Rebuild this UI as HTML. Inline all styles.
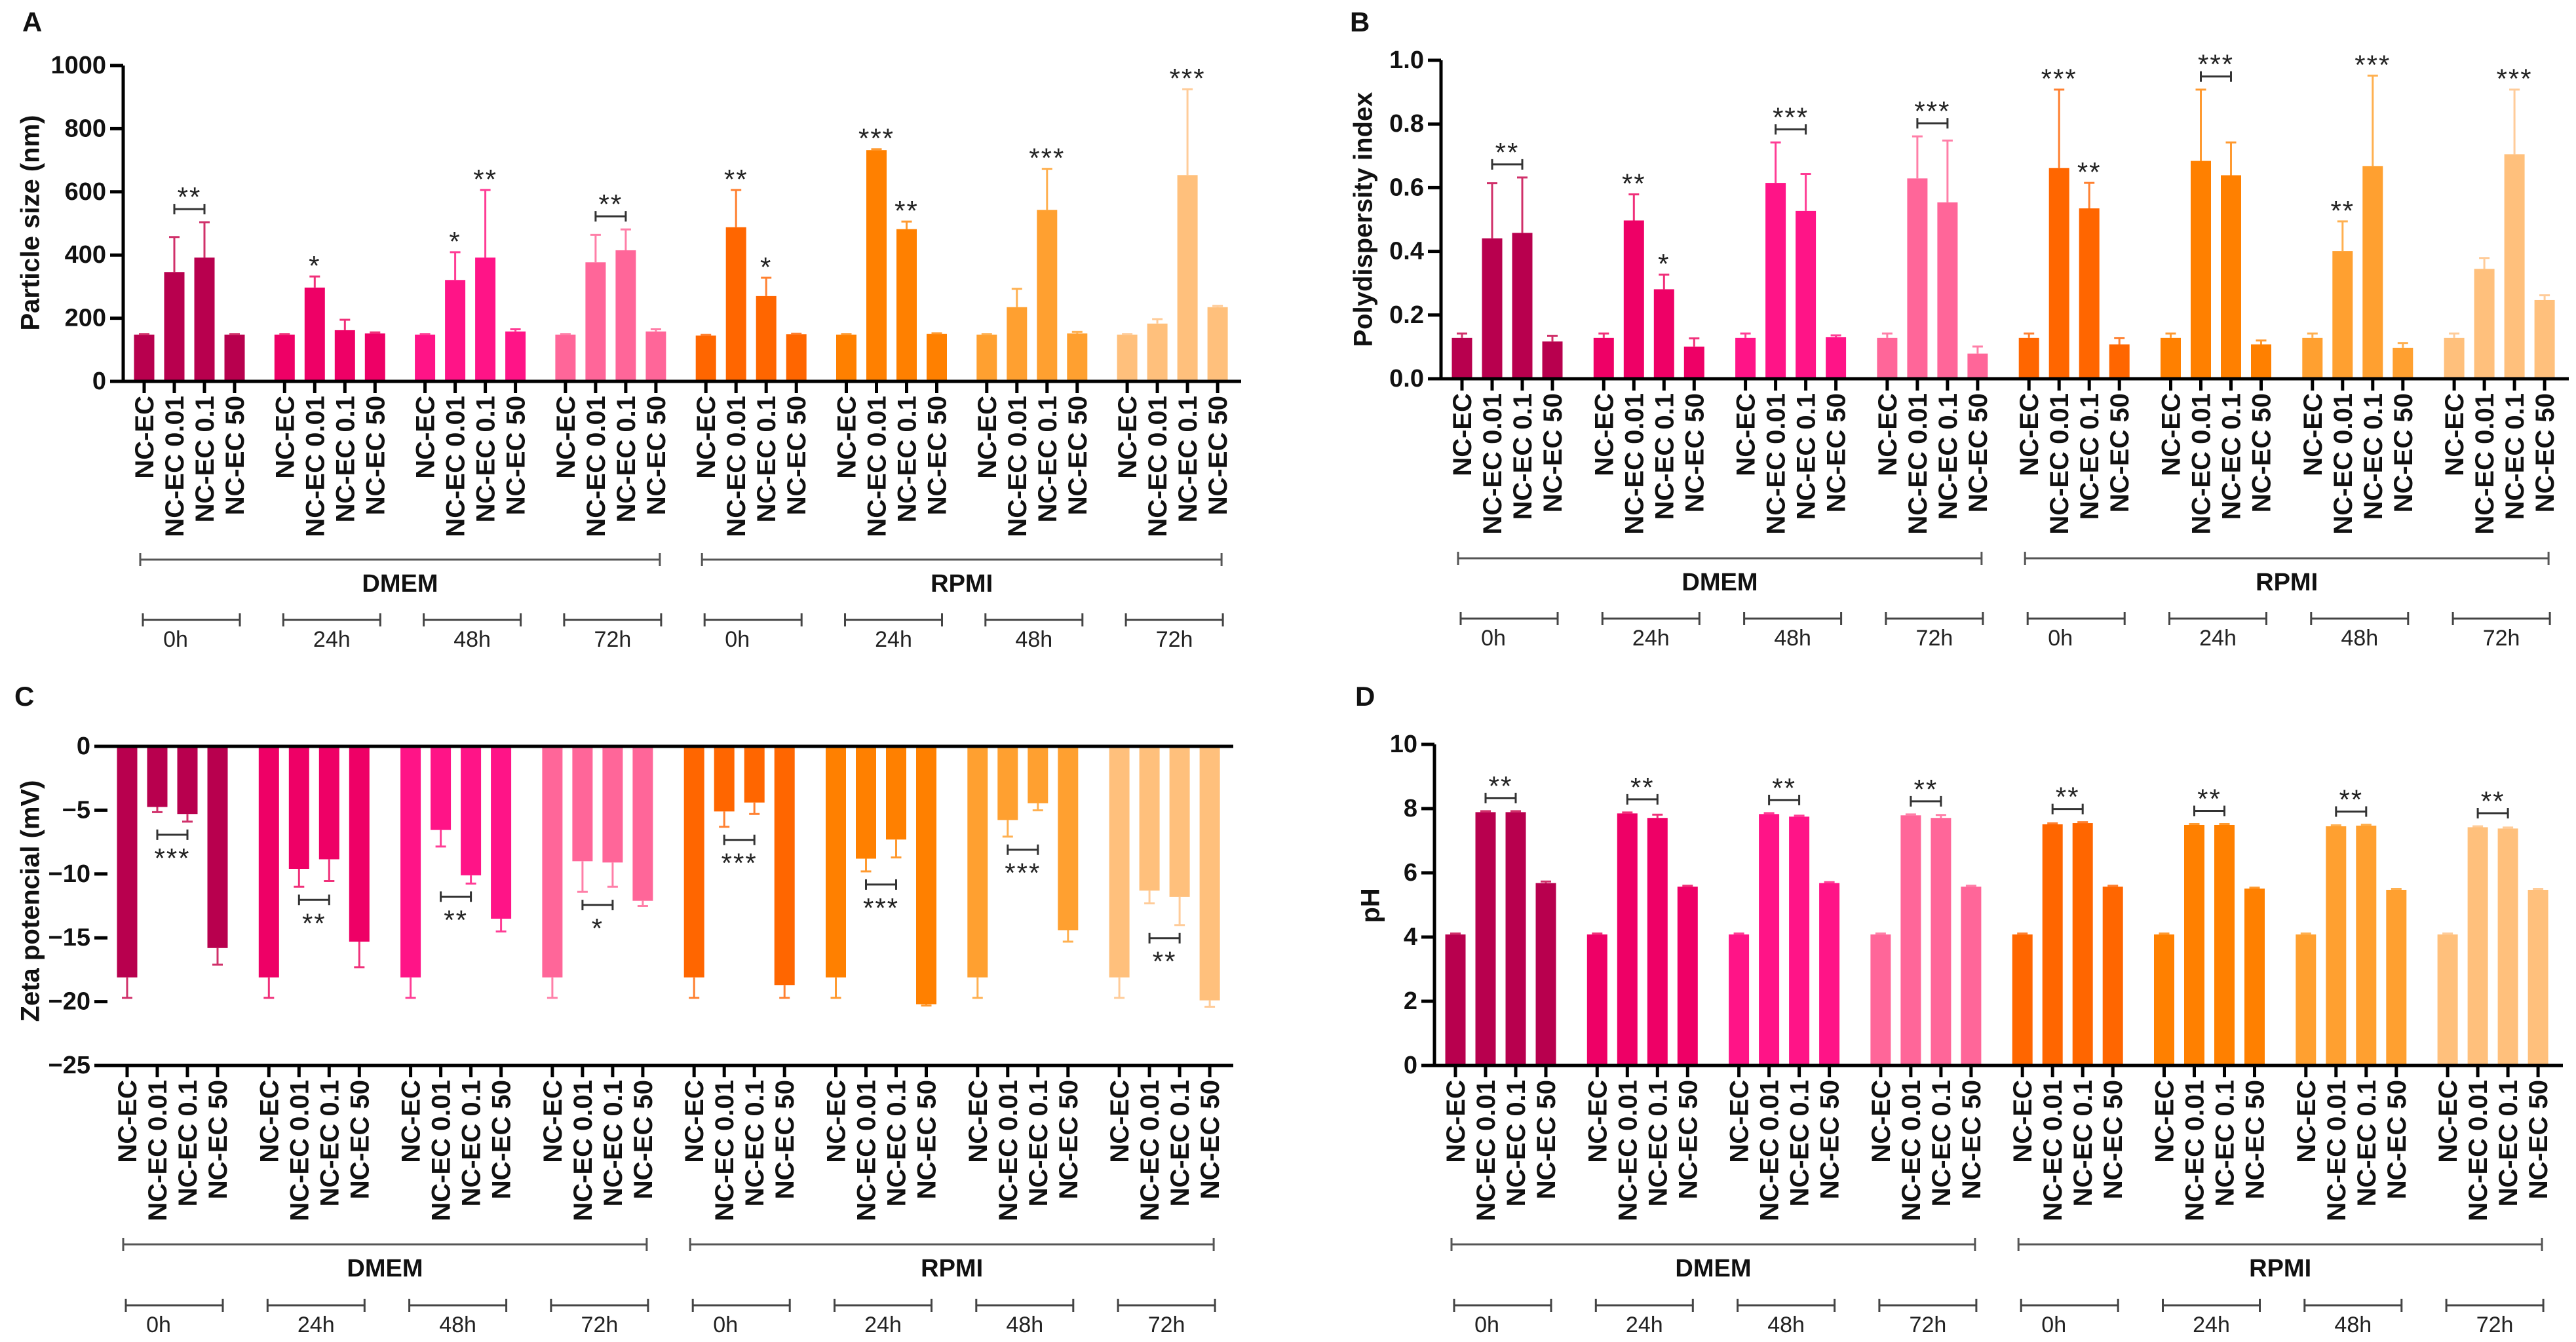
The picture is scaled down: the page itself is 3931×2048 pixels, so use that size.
<!DOCTYPE html>
<html><head><meta charset="utf-8"><style>
html,body{margin:0;padding:0;background:#fff}
svg{display:block;font-family:"Liberation Sans",Arial,sans-serif}
</style></head><body>
<svg id="fig" width="3931" height="2048" viewBox="0 0 3931 2048"></svg>
<script>
const categories=["NC-EC","NC-EC 0.01","NC-EC 0.1","NC-EC 50"];
const groupLabels=["0h","24h","48h","72h","0h","24h","48h","72h"];
const mediaLabels=["DMEM","RPMI"];
const barColors=["#B8004E","#EE0066","#FF1487","#FF6699","#FF6600","#FF8000","#FFA030","#FFC07C"];
const errColors=["#D0306A","#F0307A","#FF3C95","#FF7FA8","#FF8030","#FF9A30","#FFB050","#FFCC99"];

// Panel A: particle size (nm)
const aMeans=[148,346,392,148, 148,297,162,152, 148,321,392,158, 148,377,415,158,
              145,488,270,149, 148,732,482,150, 148,235,543,152, 148,183,653,235];
const aErrs=[2,111,112,2, 2,35,33,3, 2,88,214,7, 2,87,66,7,
             2,118,58,2, 2,3,24,2, 2,58,130,5, 2,14,272,4];
const aTicks=[0,200,400,600,800,1000];
const aSigs=[{g:0,bars:[1,2],t:"**"},{g:1,bars:[1],t:"*"},{g:2,bars:[1],t:"*"},{g:2,bars:[2],t:"**"},{g:3,bars:[1,2],t:"**"},
             {g:4,bars:[1],t:"**"},{g:4,bars:[2],t:"*"},{g:5,bars:[1],t:"***"},{g:5,bars:[2],t:"**"},{g:6,bars:[2],t:"***"},{g:7,bars:[2],t:"***"}];

// Panel B: polydispersity index
const bMeans=[0.128,0.441,0.458,0.117, 0.128,0.497,0.281,0.101, 0.128,0.615,0.527,0.131, 0.128,0.629,0.554,0.079,
              0.128,0.662,0.535,0.108, 0.128,0.684,0.639,0.108, 0.128,0.401,0.668,0.097, 0.128,0.345,0.705,0.247];
const bErrs=[0.014,0.173,0.174,0.018, 0.014,0.082,0.046,0.026, 0.014,0.127,0.116,0.005, 0.014,0.132,0.194,0.022,
             0.014,0.246,0.080,0.020, 0.014,0.224,0.103,0.012, 0.014,0.093,0.284,0.015, 0.014,0.034,0.203,0.015];
const bTicks=[0,0.2,0.4,0.6,0.8,1.0];
const bSigs=[{g:0,bars:[1,2],t:"**"},{g:1,bars:[1],t:"**"},{g:1,bars:[2],t:"*"},{g:2,bars:[1,2],t:"***"},{g:3,bars:[1,2],t:"***"},
             {g:4,bars:[1],t:"***"},{g:4,bars:[2],t:"**"},{g:5,bars:[1,2],t:"***"},{g:6,bars:[1],t:"**"},{g:6,bars:[2],t:"***"},{g:7,bars:[2],t:"***"}];

// Panel C: zeta potential (mV)
const cMeans=[-18.1,-4.75,-5.3,-15.8, -18.1,-9.6,-8.85,-15.3, -18.1,-6.55,-10.1,-13.5, -18.1,-9.0,-9.1,-12.1,
              -18.1,-5.1,-4.4,-18.7, -18.1,-8.8,-7.3,-20.2, -18.1,-5.77,-4.46,-14.4, -18.1,-11.3,-11.8,-19.9];
const cErrs=[1.6,0.4,0.6,1.3, 1.6,1.4,1.7,2.0, 1.6,1.3,0.65,1.0, 1.6,2.4,1.9,0.4,
             1.6,1.2,0.9,1.0, 1.6,1.0,1.4,0.1, 1.6,1.3,0.55,0.9, 1.6,1.0,2.2,0.5];
const cTicks=[0,-5,-10,-15,-20,-25];
const cSigs=[{g:0,bars:[1,2],t:"***"},{g:1,bars:[1,2],t:"**"},{g:2,bars:[1,2],t:"**"},{g:3,bars:[1,2],t:"*"},
             {g:4,bars:[1,2],t:"***"},{g:5,bars:[1,2],t:"***"},{g:6,bars:[1,2],t:"***"},{g:7,bars:[1,2],t:"**"}];

// Panel D: pH
const dMeans=[4.08,7.89,7.89,5.68, 4.08,7.85,7.71,5.57, 4.08,7.83,7.75,5.68, 4.08,7.79,7.71,5.57,
              4.08,7.51,7.55,5.57, 4.08,7.49,7.49,5.51, 4.08,7.45,7.47,5.47, 4.08,7.42,7.38,5.47];
const dErrs=[0.03,0.03,0.03,0.05, 0.03,0.03,0.1,0.03, 0.03,0.03,0.03,0.03, 0.03,0.03,0.09,0.03,
             0.03,0.03,0.03,0.03, 0.03,0.03,0.03,0.03, 0.03,0.03,0.03,0.03, 0.03,0.03,0.03,0.03];
const dTicks=[0,2,4,6,8,10];
const dSigs=[0,1,2,3,4,5,6,7].map(g=>({g:g,bars:[1,2],t:"**"}));

const NS="http://www.w3.org/2000/svg";
const svg=document.getElementById("fig");
function mk(tag,attrs,parent){const e=document.createElementNS(NS,tag);for(const k in attrs)e.setAttribute(k,attrs[k]);(parent||svg).appendChild(e);return e;}

function drawPanel(p){
  const g=mk("g",{});
  
  
  const y=v=>p.yZero+(v/p.vEnd)*(p.yEnd-p.yZero);
  const xc=i=>p.first+Math.floor(i/4)*p.G+(i%4)*p.b;
  const neg=p.vEnd<0;
  // letter
  const L=mk("text",{x:p.lx,y:p.ly,"font-size":42,"font-weight":"bold",fill:"#111","dominant-baseline":"middle"},g);
  L.textContent=p.letter;
  
  
  // y title
  const T=mk("text",{x:0,y:0,"font-size":40,"font-weight":"bold",fill:"#111","text-anchor":"middle","dominant-baseline":"middle",transform:`translate(${p.tx},${p.ty}) rotate(-90)`},g);
  T.textContent=p.title;
  
  
  // bars
  for(let i=0;i<p.means.length;i++){
    const gi=Math.floor(i/4), x=xc(i), v=p.means[i], e=p.errs[i];
    const y0=y(0), y1=y(v);
    const r=mk("rect",{x:x-15.5,y:Math.min(y0,y1),width:31,height:Math.abs(y1-y0),fill:barColors[gi]},g);
    
    
    const ye=y(neg?v-e:v+e);
    const el=mk("path",{d:`M${x},${y1} L${x},${ye} M${x-8},${ye} L${x+8},${ye}`,stroke:errColors[gi],"stroke-width":3,fill:"none"},g);
    
    
  }
  // axes
  const axBottom=neg?y(p.vEnd):y(0);
  const ax=mk("path",{d:`M${p.ax},${y(p.ticks[p.ticks.length-1])} L${p.ax},${axBottom+2.5} M${p.ax-2.5},${axBottom} L${p.xEnd},${axBottom}`+(neg?` M${p.ax},${y(0)} L${p.xEnd},${y(0)}`:``),stroke:"#000","stroke-width":5,fill:"none"},g);
  
  
  p.ticks.forEach(t=>{
    const ty=y(t);
    mk("line",{x1:p.ax-20,x2:p.ax,y1:ty,y2:ty,stroke:"#000","stroke-width":5},g);
    const tl=mk("text",{x:p.ax-26,y:ty,"font-size":38,"font-weight":"bold",fill:"#111","text-anchor":"end","dominant-baseline":"central"},g);
    tl.textContent=p.fmt(t);
    
    
  });
  for(let i=0;i<p.means.length;i++){
    const x=xc(i);
    mk("line",{x1:x,x2:x,y1:axBottom,y2:axBottom+18,stroke:"#000","stroke-width":5},g);
    const lb=mk("text",{x:0,y:0,"font-size":40,"font-weight":"bold",fill:"#111","text-anchor":"end",transform:`translate(${x+14},${axBottom+22}) rotate(-90)`},g);
    lb.textContent=categories[i%4];
    
    
  }
  // significance
  p.sigs.forEach(s=>{
    const idx=s.bars.map(b=>s.g*4+b);
    const ext=idx.map(i=>y(neg?p.means[i]-p.errs[i]:p.means[i]+p.errs[i]));
    const cx=idx.reduce((a,i)=>a+xc(i),0)/idx.length;
    let ty;
    if(idx.length>1){
      const by=neg?Math.max(...ext)+20:Math.min(...ext)-20;
      const br=mk("path",{d:`M${xc(idx[0])},${by-8} L${xc(idx[0])},${by+8} M${xc(idx[0])},${by} L${xc(idx[1])},${by} M${xc(idx[1])},${by-8} L${xc(idx[1])},${by+8}`,stroke:"#333","stroke-width":3,fill:"none"},g);
      
      
      ty=neg?by+50:by-4;
    } else { ty=ext[0]-2; }
    const st=mk("text",{x:cx,y:ty,"font-size":42,fill:"#222","text-anchor":"middle","letter-spacing":"2"},g);
    st.textContent=s.t;
    
    
  });
  // media & time brackets
  for(let m=0;m<2;m++){
    const x1=xc(m*16)-6, x2=xc(m*16+15)+6;
    const mb=mk("path",{d:`M${x1},${p.brY-10} L${x1},${p.brY+10} M${x1},${p.brY} L${x2},${p.brY} M${x2},${p.brY-10} L${x2},${p.brY+10}`,stroke:"#555","stroke-width":3,fill:"none"},g);
    
    
    const ml=mk("text",{x:(x1+x2)/2,y:p.brY+37,"font-size":38,"font-weight":"bold",fill:"#111","text-anchor":"middle","dominant-baseline":"central"},g);
    ml.textContent=mediaLabels[m];
    
    
  }
  for(let k=0;k<8;k++){
    const x1=xc(k*4)-2, x2=xc(k*4+3)+8;
    const tb=mk("path",{d:`M${x1},${p.tY-10} L${x1},${p.tY+10} M${x1},${p.tY} L${x2},${p.tY} M${x2},${p.tY-10} L${x2},${p.tY+10}`,stroke:"#444","stroke-width":3,fill:"none"},g);
    
    
    const tl=mk("text",{x:k%4===0?x1+50:(x1+x2)/2,y:p.tY+30,"font-size":34,fill:"#222","text-anchor":"middle","dominant-baseline":"central"},g);
    tl.textContent=groupLabels[k];
    
    
  }
}

drawPanel({id:"a",letter:"A",lx:34,ly:37,title:"Particle size (nm)",tx:49,ty:340,ax:188,yZero:582,yEnd:100,vEnd:1000,
  ticks:aTicks,fmt:t=>String(t),first:220,G:214.3,b:46,xEnd:1894,means:aMeans,errs:aErrs,sigs:aSigs,brY:854,tY:946});
drawPanel({id:"b",letter:"B",lx:2060,ly:37,title:"Polydispersity index",tx:2083,ty:335,ax:2199,yZero:578,yEnd:92,vEnd:1.0,
  ticks:bTicks,fmt:t=>t.toFixed(1),first:2231,G:216.3,b:46,xEnd:3920,means:bMeans,errs:bErrs,sigs:bSigs,brY:852,tY:944});
drawPanel({id:"c",letter:"C",lx:22,ly:1066,title:"Zeta potencial (mV)",tx:49,ty:1375,ax:164,yZero:1139,yEnd:1626,vEnd:-25,
  ticks:cTicks,fmt:t=>t===0?"0":"\u2212"+Math.abs(t),first:194,G:216.3,b:46,xEnd:1882,means:cMeans,errs:cErrs,sigs:cSigs,brY:1899,tY:1992});
drawPanel({id:"d",letter:"D",lx:2068,ly:1066,title:"pH",tx:2094,ty:1382,ax:2189,yZero:1626,yEnd:1136,vEnd:10,
  ticks:dTicks,fmt:t=>String(t),first:2221,G:216.3,b:46,xEnd:3911,means:dMeans,errs:dErrs,sigs:dSigs,brY:1899,tY:1992});
</script>
</body></html>
